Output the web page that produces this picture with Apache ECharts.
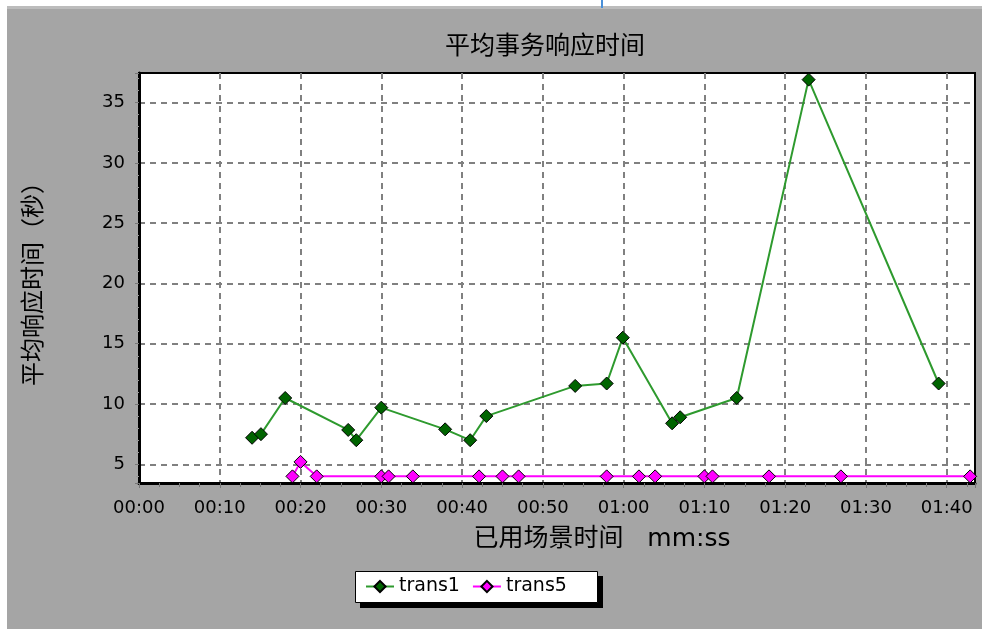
<!DOCTYPE html>
<html lang="zh">
  <head>
    <meta charset="UTF-8" />
    <script src="https://cdn.jsdelivr.net/npm/echarts@6/dist/echarts.min.js"></script>
    <title>平均事务响应时间</title>
    <style>
      html, body { margin: 0; padding: 0; background: #fff; }
      #app { width: 982px; height: 629px; }
    </style>
  </head>
  <body>
    <div id="app"></div>
    <script>
      // 已用场景时间（秒）和平均响应时间（秒）
      const trans1Time = [14.0, 15.1, 18.1, 25.9, 26.9, 30.0, 37.9, 41.0, 43.0, 54.0, 57.9, 59.9, 66.0, 67.0, 74.0, 82.9, 99.0];
      const trans1Value = [7.2, 7.5, 10.5, 7.85, 7.0, 9.7, 7.9, 7.0, 9.0, 11.5, 11.7, 15.5, 8.4, 8.9, 10.5, 36.9, 11.7];
      const trans5Time = [19.0, 20.0, 22.0, 30.0, 30.9, 33.9, 42.1, 45.0, 47.0, 57.9, 61.9, 63.9, 70.0, 71.0, 78.0, 86.9, 102.9];
      const trans5Value = [4.0, 5.2, 4.0, 4.0, 4.0, 4.0, 4.0, 4.0, 4.0, 4.0, 4.0, 4.0, 4.0, 4.0, 4.0, 4.0, 4.0];
      const seriesNames = ["trans1", "trans5"];

      const font = "'DejaVu Sans', 'Noto Sans CJK SC', sans-serif";
      const pair = (xs, ys) => xs.map((x, i) => [x, ys[i]]);
      const mmss = (v) => {
        const m = Math.floor(v / 60);
        const s = Math.round(v % 60);
        return String(m).padStart(2, "0") + ":" + String(s).padStart(2, "0");
      };

      const chart = echarts.init(document.getElementById("app"));
      chart.setOption({
        backgroundColor: "#a5a5a5",
        animation: false,
        title: {
          text: "平均事务响应时间",
          left: 540,
          top: 30,
          textAlign: "center",
          textStyle: { fontFamily: font, fontSize: 25, fontWeight: "normal", color: "#000" },
        },
        graphic: [
          // 截图边缘的白条
          { type: "rect", left: 0, top: 0, shape: { width: 7, height: 629 }, style: { fill: "#fff" } },
          { type: "rect", left: 0, top: 0, shape: { width: 982, height: 6 }, style: { fill: "#fff" } },
          { type: "rect", left: 7, top: 6, shape: { width: 975, height: 3 }, style: { fill: "#bcbcbc" } },
          { type: "rect", left: 601, top: 0, shape: { width: 2, height: 8 }, style: { fill: "#4a90d9" } },
          // 图例框和阴影
          { type: "rect", left: 360, top: 576, z: 0, shape: { width: 243, height: 32 }, style: { fill: "#000" } },
          {
            type: "rect", left: 355, top: 571, z: 1,
            shape: { x: 0.5, y: 0.5, width: 242, height: 31 },
            style: { fill: "#fff", stroke: "#000", lineWidth: 1 },
          },
        ],
        legend: {
          left: 365,
          top: 577,
          padding: 0,
          itemGap: 12,
          itemWidth: 28,
          itemHeight: 14,
          z: 5,
          textStyle: { fontFamily: font, fontSize: 19, color: "#000" },
          data: seriesNames,
        },
        grid: {
          left: 139,
          top: 73,
          right: 7,
          bottom: 146,
          show: true,
          backgroundColor: "#fff",
          borderColor: "#000",
          borderWidth: 2,
        },
        xAxis: {
          type: "value",
          min: 0,
          max: 103.5,
          interval: 10,
          name: "已用场景时间   mm:ss",
          nameLocation: "middle",
          nameGap: 44,
          nameTextStyle: { fontFamily: font, fontSize: 25, color: "#000", padding: [0, 0, 0, 90] },
          axisLine: { show: true, lineStyle: { color: "#000", width: 3 } },
          axisTick: { show: true, length: 5, lineStyle: { color: "#777" } },
          minorTick: { show: true, splitNumber: 4, length: 4, lineStyle: { color: "#777" } },
          axisLabel: {
            fontFamily: font,
            fontSize: 18,
            color: "#000",
            margin: 16,
            formatter: (v) => (v % 10 === 0 ? mmss(v) : ""),
          },
          splitLine: {
            show: true,
            showMinLine: false,
            showMaxLine: false,
            lineStyle: { color: "#808080", type: [6, 5], width: 2 },
          },
        },
        yAxis: {
          type: "value",
          min: 3.45,
          max: 37.45,
          name: "平均响应时间（秒）",
          nameLocation: "middle",
          nameGap: 92,
          nameTextStyle: { fontFamily: font, fontSize: 24, color: "#000" },
          axisLine: { show: true, lineStyle: { color: "#000", width: 3 } },
          axisTick: { show: true, length: 4, lineStyle: { color: "#777" } },
          minorTick: { show: true, splitNumber: 5, length: 3, lineStyle: { color: "#999" } },
          axisLabel: {
            fontFamily: font,
            fontSize: 18,
            color: "#000",
            margin: 14,
            formatter: (v) => (Math.abs(v % 5) < 1e-6 ? String(v) : ""),
          },
          splitLine: {
            show: true,
            showMinLine: false,
            showMaxLine: false,
            lineStyle: { color: "#808080", type: [6, 5], width: 2 },
          },
        },
        series: [
          {
            name: seriesNames[0],
            type: "line",
            data: pair(trans1Time, trans1Value),
            symbol: "diamond",
            symbolSize: 13,
            lineStyle: { color: "#2e9a2e", width: 2 },
            itemStyle: { color: "#006400", borderColor: "#000", borderWidth: 1 },
            z: 3,
          },
          {
            name: seriesNames[1],
            type: "line",
            data: pair(trans5Time, trans5Value),
            symbol: "diamond",
            symbolSize: 13,
            lineStyle: { color: "#ff00ff", width: 2 },
            itemStyle: { color: "#ff00ff", borderColor: "#000", borderWidth: 1 },
            z: 4,
          },
        ],
      });
    </script>
  </body>
</html>
